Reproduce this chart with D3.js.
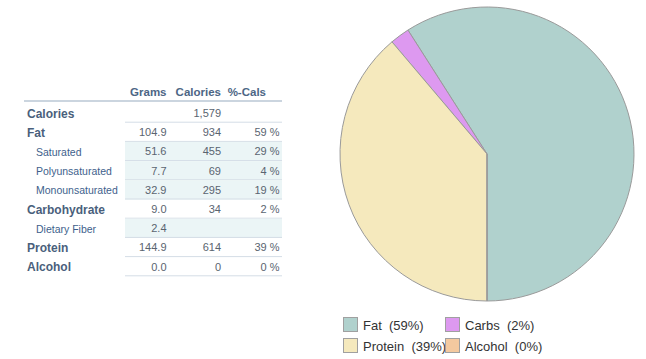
<!DOCTYPE html>
<html>
<head>
<meta charset="utf-8">
<script src="https://cdn.jsdelivr.net/npm/d3@7"></script>
<style>
  body { margin: 0; background: #fff; }
  svg { font-family: "Liberation Sans", Arial, sans-serif; }
</style>
</head>
<body>
<div id="chart"></div>
<script>
// table data
var rowLabels = ["Calories", "Fat", "Saturated", "Polyunsaturated", "Monounsaturated",
                 "Carbohydrate", "Dietary Fiber", "Protein", "Alcohol"];
var rowLevels = [0, 0, 1, 1, 1, 0, 1, 0, 0];
var grams = [null, 104.9, 51.6, 7.7, 32.9, 9.0, 2.4, 144.9, 0.0];
var calories = [1579, 934, 455, 69, 295, 34, null, 614, 0];
var pctCals = [null, 59, 29, 4, 19, 2, null, 39, 0];
var headers = ["Grams", "Calories", "%-Cals"];

// pie data
var macroNames = ["Fat", "Carbs", "Protein", "Alcohol"];
var macroCals = [934, 34, 614, 0];
var macroPct = [59, 2, 39, 0];
var macroColors = ["#b0d1cd", "#dd99f0", "#f5e9bd", "#f4c99f"];

var svg = d3.select("#chart").append("svg")
  .attr("width", 646)
  .attr("height", 359);

// ---- table ----
var tbl = svg.append("g");
var rowScale = d3.scaleBand().domain(rowLabels).range([103.5, 103.5 + 19.2 * rowLabels.length]);
var numLeft = 125, tblRight = 282;

// header
var headerX = [166.5, 221, 266];
tbl.selectAll("text.hdr").data(headers).enter().append("text")
  .attr("class", "hdr")
  .attr("x", (d, i) => headerX[i])
  .attr("y", 96)
  .attr("text-anchor", "end")
  .attr("font-size", "11.5px")
  .attr("font-weight", "bold")
  .attr("fill", "#4d6685")
  .text(d => d);

tbl.append("rect")
  .attr("x", 24).attr("y", 100)
  .attr("width", tblRight - 24).attr("height", 2)
  .attr("fill", "#cbd5df");

var rows = tbl.selectAll("g.row").data(rowLabels).enter().append("g")
  .attr("class", "row")
  .attr("transform", d => `translate(0, ${rowScale(d)})`);

// sub-row shading
rows.filter((d, i) => rowLevels[i] === 1).append("rect")
  .attr("x", numLeft).attr("y", 0)
  .attr("width", tblRight - numLeft).attr("height", rowScale.bandwidth())
  .attr("fill", "#ebf5f6");

// row bottom lines
rows.filter((d, i) => i > 0).append("line")
  .attr("x1", numLeft).attr("x2", tblRight)
  .attr("y1", rowScale.bandwidth() - 0.5).attr("y2", rowScale.bandwidth() - 0.5)
  .attr("stroke", "#d4dde6")
  .attr("stroke-width", 1);
rows.filter((d, i) => i === 0).append("line")
  .attr("x1", numLeft).attr("x2", tblRight)
  .attr("y1", rowScale.bandwidth() - 0.5).attr("y2", rowScale.bandwidth() - 0.5)
  .attr("stroke", "#d4dde6");

// labels
rows.append("text")
  .attr("x", (d, i) => rowLevels[i] ? 36 : 27)
  .attr("y", 14)
  .attr("font-size", (d, i) => rowLevels[i] ? "10.5px" : "12px")
  .attr("font-weight", (d, i) => rowLevels[i] ? "normal" : "bold")
  .attr("fill", (d, i) => rowLevels[i] ? "#3e5f8c" : "#4a5f7c")
  .text(d => d);

var fmtG = d3.format(".1f"), fmtC = d3.format(",");
var cols = [
  { vals: grams, x: 166.5, f: v => fmtG(v) },
  { vals: calories, x: 221, f: v => fmtC(v) },
  { vals: pctCals, x: 279.5, f: v => v + " %" }
];
cols.forEach(function(c) {
  rows.append("text")
    .attr("x", c.x)
    .attr("y", 13.5)
    .attr("text-anchor", "end")
    .attr("font-size", "11px")
    .attr("fill", "#5a6470")
    .text((d, i) => c.vals[i] == null ? "" : c.f(c.vals[i]));
});

// ---- pie ----
var cx = 487, cy = 154, radius = 147;
var pie = d3.pie().sort(null).value(d => d.cal)
  .startAngle(Math.PI).endAngle(-Math.PI);
var macroData = macroNames.map((n, i) => ({ name: n, cal: macroCals[i], pct: macroPct[i], color: macroColors[i] }));
var arc = d3.arc().innerRadius(0).outerRadius(radius);

svg.append("g")
  .attr("transform", `translate(${cx}, ${cy})`)
  .selectAll("path").data(pie(macroData)).enter().append("path")
  .attr("d", arc)
  .attr("fill", d => d.data.color)
  .attr("stroke", "#9a9a9a")
  .attr("stroke-width", 1);

// ---- legend ----
var legX = [343, 445], legY = [317, 338];
var leg = svg.selectAll("g.leg").data(macroData).enter().append("g")
  .attr("class", "leg")
  .attr("transform", (d, i) => `translate(${legX[i % 2]}, ${legY[Math.floor(i / 2)]})`);

leg.append("rect")
  .attr("x", 0.5).attr("y", 0.5)
  .attr("width", 14).attr("height", 14)
  .attr("fill", d => d.color)
  .attr("stroke", "#a0a0a0");

leg.append("text")
  .attr("x", 20)
  .attr("y", 12.5)
  .attr("font-size", "13px")
  .attr("fill", "#333")
  .style("white-space", "pre")
  .text(d => `${d.name}  (${d.pct}%)`);
</script>
</body>
</html>
